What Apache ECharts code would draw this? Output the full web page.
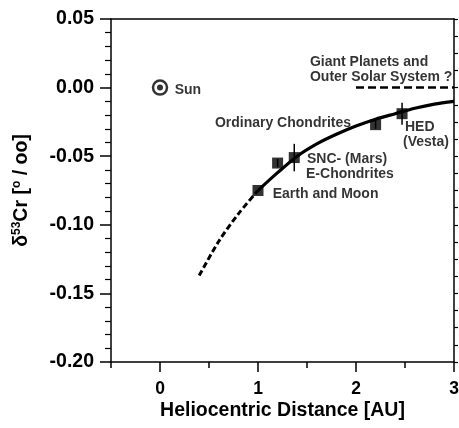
<!DOCTYPE html>
<html>
<head>
<meta charset="utf-8">
<script src="https://cdn.jsdelivr.net/npm/echarts@6/dist/echarts.min.js"></script>
<style>
  html, body { margin: 0; padding: 0; background: #fff; }
  #chart { width: 459px; height: 428px; }
</style>
</head>
<body>
<div id="chart"></div>
<script>
// tick positions on the distance axis
const xMajorTicks = [0, 1, 2, 3];
const xMinorTicks = [-0.5, 0.5, 1.5, 2.5];

// meteorite groups: [AU, d53Cr], with error half-widths
const groupPoints = [[1.0, -0.075], [1.2, -0.055], [1.37, -0.051], [2.2, -0.027], [2.47, -0.019]];
const groupErrors = [0, 0.003, 0.010, 0.003, 0.008];

// trend
const trendSolid = [
  [1.0, -0.075], [1.2, -0.062], [1.4, -0.050], [1.6, -0.041], [1.8, -0.034],
  [2.0, -0.028], [2.2, -0.023], [2.4, -0.019], [2.6, -0.015], [2.8, -0.012], [3.0, -0.010]
];
const trendDashed = [[0.4, -0.137], [0.6, -0.112], [0.8, -0.092], [1.0, -0.075]];
const outerLevel = [[2.0, 0.0], [3.0, 0.0]];
const sunPoint = [[0, 0]];

// annotations: [x, y, text] (left edge, vertical middle)
const notes = [
  [0.15, -0.0015, 'Sun'],
  [1.53, 0.0185, 'Giant Planets and'],
  [1.53, 0.0073, 'Outer Solar System ?'],
  [0.56, -0.026, 'Ordinary Chondrites'],
  [1.50, -0.052, 'SNC- (Mars)'],
  [1.49, -0.063, 'E-Chondrites'],
  [1.15, -0.078, 'Earth and Moon'],
  [2.50, -0.0285, 'HED'],
  [2.48, -0.0395, '(Vesta)']
];

const font = 'Liberation Sans';
const black = '#000';

const chart = echarts.init(document.getElementById('chart'), null, { renderer: 'canvas' });

chart.setOption({
  backgroundColor: '#fff',
  animation: false,
  grid: { left: 111, right: 5, top: 19, bottom: 66, outerBoundsMode: 'none', containLabel: false },
  xAxis: [
    {
      type: 'value', min: -0.5, max: 3, position: 'bottom',
      splitLine: { show: false },
      axisLine: { onZero: false, lineStyle: { color: black, width: 1.5 } },
      axisTick: { customValues: xMajorTicks, length: 10, lineStyle: { color: black, width: 1.5 } },
      axisLabel: {
        customValues: xMajorTicks, margin: 18, color: black,
        fontFamily: font, fontWeight: 'bold', fontSize: 17.5
      },
      name: 'Heliocentric Distance [AU]', nameLocation: 'middle', nameGap: 39,
      nameMoveOverlap: false,
      nameTextStyle: { color: black, fontFamily: font, fontWeight: 'bold', fontSize: 19.5 }
    },
    {
      type: 'value', min: -0.5, max: 3, position: 'bottom',
      splitLine: { show: false },
      axisLine: { show: false, onZero: false },
      axisTick: { customValues: xMinorTicks, length: 6, lineStyle: { color: black, width: 1.5 } },
      axisLabel: { show: false }
    },
    {
      type: 'value', min: -0.5, max: 3, position: 'top',
      splitLine: { show: false },
      axisLine: { onZero: false, lineStyle: { color: black, width: 1.5 } },
      axisTick: { show: false },
      axisLabel: { show: false }
    }
  ],
  yAxis: [
    {
      type: 'value', min: -0.2, max: 0.05, interval: 0.05, position: 'left',
      splitLine: { show: false },
      axisLine: { onZero: false, lineStyle: { color: black, width: 1.5 } },
      axisTick: { length: 11, lineStyle: { color: black, width: 1.5 } },
      minorTick: { show: true, splitNumber: 5, length: 6, lineStyle: { color: black, width: 1.2 } },
      axisLabel: {
        margin: 17, color: black, fontFamily: font, fontWeight: 'bold', fontSize: 19.5,
        formatter: v => v.toFixed(2)
      },
      name: '{m|δ}{s|53}{m|Cr [}{s|o}{m| / oo]}',
      nameLocation: 'middle', nameRotate: 90, nameGap: 78,
      nameMoveOverlap: false,
      nameTextStyle: {
        color: black,
        rich: {
          m: { fontFamily: font, fontWeight: 'bold', fontSize: 19.5, lineHeight: 22, color: black },
          s: { fontFamily: font, fontWeight: 'bold', fontSize: 12, lineHeight: 13, verticalAlign: 'top', color: black }
        }
      }
    },
    {
      type: 'value', min: -0.2, max: 0.05, interval: 0.05, position: 'right',
      splitLine: { show: false },
      axisLine: { onZero: false, lineStyle: { color: black, width: 1.5 } },
      axisTick: { length: 4, lineStyle: { color: black, width: 1.2 } },
      minorTick: { show: true, splitNumber: 4, length: 4, lineStyle: { color: black, width: 1.2 } },
      axisLabel: { show: false }
    }
  ],
  series: [
    {
      type: 'line', data: trendDashed, smooth: 0.3, symbol: 'none',
      lineStyle: { color: black, width: 3, type: [6, 3] }
    },
    {
      type: 'line', data: trendSolid, smooth: 0.3, symbol: 'none',
      lineStyle: { color: black, width: 3.2 }
    },
    {
      type: 'line', data: outerLevel, symbol: 'none',
      lineStyle: { color: black, width: 2.5, type: [8, 4] }
    },
    {
      type: 'custom',
      data: groupPoints.map((p, i) => [p[0], p[1], groupErrors[i]]),
      renderItem: (params, api) => {
        const x = api.value(0), y = api.value(1), e = api.value(2);
        if (!e) return null;
        const a = api.coord([x, y + e]);
        const b = api.coord([x, y - e]);
        return {
          type: 'line',
          shape: { x1: a[0], y1: a[1], x2: b[0], y2: b[1] },
          style: { stroke: black, lineWidth: 1.5 }
        };
      },
      z: 3
    },
    {
      type: 'scatter', data: groupPoints, symbol: 'rect', symbolSize: 11,
      itemStyle: { color: black }, z: 4
    },
    {
      type: 'scatter', data: sunPoint, symbol: 'circle', symbolSize: 14,
      itemStyle: { color: '#fff', borderColor: black, borderWidth: 2.5 }, z: 4
    },
    {
      type: 'scatter', data: sunPoint, symbol: 'circle', symbolSize: 6,
      itemStyle: { color: black }, z: 5
    },
    {
      type: 'scatter', symbolSize: 0,
      data: notes.map(n => ({ value: [n[0], n[1]], name: n[2] })),
      label: {
        show: true, position: [0, 0], align: 'left', verticalAlign: 'middle',
        formatter: p => p.name,
        color: black, fontFamily: font, fontWeight: 'bold', fontSize: 14
      },
      z: 6
    }
  ]
});
</script>
</body>
</html>
